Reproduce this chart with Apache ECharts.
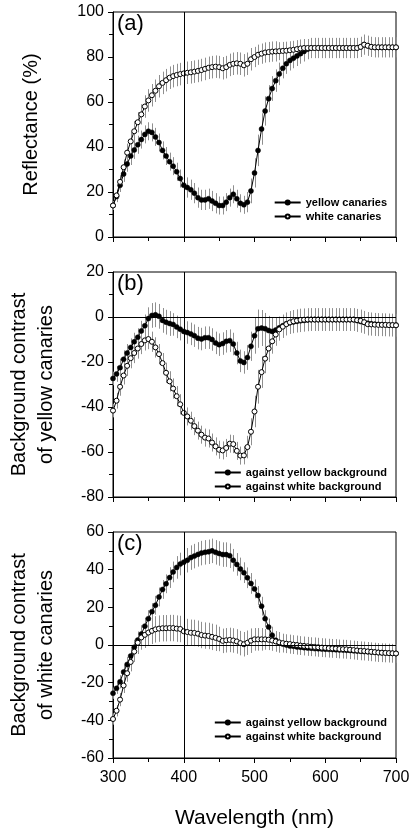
<!DOCTYPE html>
<html>
<head>
<meta charset="utf-8">
<script src="https://cdn.jsdelivr.net/npm/echarts@6/dist/echarts.min.js"></script>
<style>
html,body{margin:0;padding:0;background:#fff;}
#chart{width:409px;height:838px;}
</style>
</head>
<body>
<div id="chart"></div>
<script>
// Wavelengths (nm)
const wavelength = [
300,305,310,315,320,325,330,335,340,345,
350,355,360,365,370,375,380,385,390,395,
400,405,410,415,420,425,430,435,440,445,
450,455,460,465,470,475,480,485,490,495,
500,505,510,515,520,525,530,535,540,545,
550,555,560,565,570,575,580,585,590,595,
600,605,610,615,620,625,630,635,640,645,
650,655,660,665,670,675,680,685,690,695,
700];

// Panel (a): reflectance (%)
const reflYellow = [
14,18,23,28,32.5,36,38.7,41,43.3,45.6,
47,46.5,44.5,42,38.5,36,33.5,31.5,29,26,
23,22,21,19.5,17.5,16.5,16.5,17,16,15,
14,14,15.5,17.5,19,17,15,14.3,15.5,20.5,
28.5,38.5,48,56,61.5,66,69.5,72.5,75,77,
78.5,79.5,80.5,81.5,82.5,83.5,84,84,84,84,
84,84,84,84,84,84,84,84,84,84,
84.5,85.5,85,84.5,84.3,84.3,84.3,84.3,84.3,84.3,
84.3];
const reflYellowSD = [
2,2.5,3,3.5,3.5,4,4,4,4,4,
4,4,4,4,4,4,4,4,4,4,
4.5,4.5,4.5,4.5,4.5,4.5,4.5,4.5,4.5,4.5,
4,4,4,4,4,4,4,4,4.5,5.5,
6.5,7,7,6.5,6,5.5,5,5,4.5,4.5,
4.5,4.5,4.5,4.5,4.5,4.5,4.5,4.5,4.5,4.5,
4.5,4.5,4.5,4.5,4.5,4.5,4.5,4.5,4.5,4.5,
4.5,4.5,4.5,4.5,4.5,4.5,4.5,4.5,4.5,4.5,
4.5];
const reflWhite = [
14,18.5,24.5,31,37.5,42.5,47,51,54.5,58,
60.7,63,65,67,68.5,69.7,70.8,71.5,72,72.4,
72.7,73,73.2,73.5,73.8,74.2,74.7,75.2,75.5,75.7,
75.5,75,75.5,76.5,77,77.2,77,76.3,77,79,
80,81,81.5,82,82.2,82.4,82.5,82.6,82.7,82.8,
83,83.2,83.5,83.8,84,84,84,84,84,84,
84,84,84,84,84,84,84,84,84,84,
84.5,85.5,85,84.5,84.3,84.3,84.3,84.3,84.3,84.3,
84.3];
const reflWhiteSD = [
2,2.5,3,3.5,4,4,4.5,4.5,4.5,5,
5,5,5,5,5,5,5,5,5,5,
5,5,5,5,5,5,5,5,5,5,
5,5,5,5,5,5,5,5,5,5,
4.5,4.5,4.5,4.5,4.5,4.5,4.5,4,4,4,
4,4,4,4,4,4,4,4,4,4,
4,4,4,4,4,4,4,4,4,4,
4,4,4,4,4,4,4,4,4,4,
4];

// Panel (b): background contrast of yellow canaries
const contYellowOnYellow = [
-27.3,-25.3,-22.5,-18.8,-16,-13.5,-11,-9,-6.2,-3.9,
-0.7,0.7,1,0.3,-1.5,-2.3,-2.9,-3.3,-4.4,-5.4,
-6.4,-6.9,-7.5,-8.3,-9.4,-9.8,-9.2,-9.2,-10,-11.5,
-12.3,-11.8,-10.8,-10.5,-12,-16,-19.5,-20.2,-18,-13,
-8.3,-5.2,-4.9,-5.2,-6,-6.4,-5.8,-4.8,-3.9,-3,
-2.5,-2.2,-1.9,-1.7,-1.5,-1.3,-1.2,-1.2,-1.2,-1.2,
-1.2,-1.2,-1.2,-1.2,-1.2,-1.2,-1.2,-1.2,-1.2,-1.6,
-2,-2.4,-2.8,-3,-3.2,-3.3,-3.4,-3.5,-3.5,-3.6,
-3.6];
const contYellowOnYellowSD = [
3,3.5,4,4,4,4,4,4,4.5,5,
5,5.5,5.5,5.5,5.5,5.5,5.5,5,5,5,
5,5,5,5,5,5,5,5,5,5,
5,5,5,5,5,5,5,5,5.5,6.5,
8,8.5,8,7,6.5,6,5.5,5,5,5,
5,5,5,5,5,5,5,5,5,5,
5,5,5,5,5,5,5,5,5,5,
5,5,5,5,5,5,5,5,5,5,
5];
const contYellowOnWhite = [
-41.6,-37.2,-31,-26,-21.7,-18.3,-16,-14,-12,-10.4,
-9.8,-11,-13.5,-16.5,-20.5,-24.8,-28.6,-31.8,-35.2,-38.8,
-42.6,-44.2,-46.1,-48.5,-50.5,-52.3,-53.6,-54,-55.8,-57.5,
-59,-59.3,-58.2,-56.3,-56.5,-59.5,-61.6,-61.5,-57.8,-51,
-42,-31,-24.5,-18.5,-14,-10.8,-7.8,-5.5,-4.3,-3.2,
-2.4,-1.9,-1.6,-1.3,-1.2,-1.1,-1.1,-1.1,-1.1,-1.1,
-1.1,-1.1,-1.1,-1.1,-1.1,-1.1,-1.1,-1.1,-1.1,-1.4,
-1.7,-2.3,-3.2,-3.3,-3.4,-3.5,-3.5,-3.5,-3.6,-3.6,
-3.7];
const contYellowOnWhiteSD = [
3,3.5,4,4,4.5,4.5,4.5,4.5,4.5,4.5,
4.5,4.5,4.5,4.5,4.5,4.5,4.5,4.5,4.5,4.5,
4,4,4,4,4,4,4,4,4,4,
4,4,4,4,4,4,4,4,5,6,
7,7.5,7,6.5,6,5.5,5,5,5,5,
5,5,5,5,5,5,5,5,5,5,
5,5,5,5,5,5,5,5,5,5,
5,5,5,5,5,5,5,5,5,5,
5];

// Panel (c): background contrast of white canaries
const contWhiteOnYellow = [
-25.6,-23,-19.5,-14.3,-10.3,-5.8,-1.2,2.6,5.8,10,
14,17.7,21.1,25.5,29.5,32.5,35.8,38.8,41.2,43,
44,45,46.4,47.2,48.1,48.8,49.2,49.5,50,49.2,
48.6,48,48,47.4,45,42.8,40.4,38.4,35.7,32.7,
29.8,26.3,20.6,14,9.5,5.2,2.5,1.2,0.5,0,
-0.5,-0.7,-1,-1.2,-1.4,-1.6,-1.7,-1.9,-2,-2.1,
-2.2,-2.3,-2.4,-2.5,-2.6,-2.7,-2.8,-2.9,-3.1,-3.2,
-3.3,-3.5,-3.6,-3.7,-3.8,-4,-4.1,-4.2,-4.3,-4.4,
-4.5];
const contWhiteOnYellowSD = [
3,3,3.5,3.5,4,4,4,4,4,4.5,
4.5,4.5,5,5,5,5,5.5,5.5,6,6,
6,6.5,6.5,6.5,6.5,6.5,6.5,6.5,6.5,6.5,
6.5,6.5,6.5,6.5,6,6,6,5.5,5.5,5.5,
5,5,5,4.5,4.5,4.5,4.5,4,4,4,
4,4,4,4,4,4,4,4,4,4,
4,4,4,4,4,4,4,4,4,4,
4,4,4,4,4,4,4,4,4,4,
4];
const contWhiteOnWhite = [
-39.3,-34.9,-29,-21.5,-15,-9,-3.5,1.2,4,5.4,
6.6,7.5,8.3,8.7,8.9,8.9,9,9,8.7,8.5,
7.3,6.9,6.5,6.4,6,5.3,5,4.8,4.3,3.8,
3.2,2.2,2.5,2.7,2.4,1.9,1,0.4,1.2,2.3,
3,3,3,3,2.8,2.4,1.9,1.4,1,0.7,
0.5,0.2,0,-0.3,-0.5,-0.7,-0.9,-1,-1.2,-1.4,
-1.5,-1.7,-1.8,-1.9,-2.1,-2.2,-2.3,-2.5,-2.7,-2.9,
-3.1,-3.2,-3.4,-3.6,-3.8,-4,-4.1,-4.2,-4.3,-4.4,
-4.5];
const contWhiteOnWhiteSD = [
3,3,3.5,4,4.5,5,5.5,6,6.5,7,
7,7,7,7,7,7,7,7,7,7,
7,7,7,7,7,7,7,7,7,7,
6.5,6.5,6.5,6.5,6.5,6.5,6.5,6.5,6.5,6.5,
6,6,6,5.5,5.5,5.5,5.5,5.5,5,5,
5,5,5,5,5,5,5,5,5,5,
5,5,5,5,5,5,5,5,5,5,
5,5,5,5,5,5,5,5,5,5,
5];

const xTicks = [300, 400, 500, 600, 700];
const panelLabels = ['(a)', '(b)', '(c)'];
const legendA = ['yellow canaries', 'white canaries'];
const legendBC = ['against yellow background', 'against white background'];
const yNames = ['Reflectance (%)', 'Background contrast\nof yellow canaries', 'Background contrast\nof white canaries'];

const FONT = '"Liberation Sans", Arial, Helvetica, sans-serif';

const grids = [
  {left: 113, right: 13, top: 12, height: 225},
  {left: 113, right: 13, top: 272, height: 225},
  {left: 113, right: 13, top: 532, height: 226}
];

function xAxisFor(i, showLabels) {
  return {
    type: 'value', gridIndex: i, min: 300, max: 700, interval: 100,
    axisLine: {show: true, onZero: false, lineStyle: {color: '#000', width: 1}},
    axisTick: {show: true, inside: false, length: 5, lineStyle: {color: '#000'}},
    minorTick: {show: true, splitNumber: 2, length: 4, lineStyle: {color: '#000'}},
    splitLine: {show: false},
    axisLabel: {show: showLabels, fontSize: 16, color: '#000', fontFamily: FONT, margin: 12,
      formatter: v => xTicks.includes(v) ? String(v) : ''},
    name: showLabels ? 'Wavelength (nm)' : '',
    nameLocation: 'middle', nameGap: 50,
    nameTextStyle: {fontSize: 21, color: '#000', fontFamily: FONT}
  };
}
function yAxisFor(i, min, max, name, gap) {
  return {
    type: 'value', gridIndex: i, min: min, max: max, interval: 20,
    axisLine: {show: true, onZero: false, lineStyle: {color: '#000', width: 1}},
    axisTick: {show: true, inside: false, length: 5, lineStyle: {color: '#000'}},
    minorTick: {show: true, splitNumber: 2, length: 4, lineStyle: {color: '#000'}},
    splitLine: {show: false},
    axisLabel: {fontSize: 16, color: '#000', fontFamily: FONT, margin: 9},
    name: name, nameLocation: 'middle', nameGap: gap,
    nameTextStyle: {fontSize: 20, color: '#000', fontFamily: FONT, lineHeight: 27}
  };
}

function errRender(params, api) {
  const x = api.value(0), lo = api.value(1), hi = api.value(2);
  const p1 = api.coord([x, lo]), p2 = api.coord([x, hi]);
  const xx = Math.round(p1[0]) + 0.5;
  return {type: 'line', shape: {x1: xx, y1: p1[1], x2: xx, y2: p2[1]},
    style: {stroke: '#8f8f8f', lineWidth: 1}};
}
function errSeries(i, mean, sd) {
  return {
    type: 'custom', xAxisIndex: i, yAxisIndex: i, renderItem: errRender, silent: true, z: 1,
    encode: {x: 0, y: [1, 2]},
    data: wavelength.map((w, k) => [w, mean[k] - sd[k], mean[k] + sd[k]])
  };
}
function lineSeries(i, name, mean, filled, refLines) {
  const s = {
    type: 'line', name: name, xAxisIndex: i, yAxisIndex: i, z: filled ? 3 : 4,
    data: wavelength.map((w, k) => [w, mean[k]]),
    symbol: 'circle', symbolSize: 5, showAllSymbol: true,
    lineStyle: {color: '#000', width: 1},
    itemStyle: filled ? {color: '#000', borderColor: '#000', borderWidth: 0.5}
                      : {color: '#fff', borderColor: '#000', borderWidth: 1},
    emphasis: {disabled: true},
    animation: false
  };
  if (refLines) {
    s.markLine = {silent: true, symbol: 'none', label: {show: false},
      lineStyle: {color: '#000', width: 1, type: 'solid'}, animation: false,
      data: refLines};
  }
  return s;
}

function legendFor(names, top) {
  return {
    data: names, orient: 'vertical', right: 17, top: top, itemGap: 3,
    itemWidth: 26, itemHeight: 5, selectedMode: false,
    textStyle: {fontSize: 11, fontWeight: 'bold', color: '#000', fontFamily: FONT, padding: [0, 0, 0, 0]}
  };
}

const chart = echarts.init(document.getElementById('chart'), null, {renderer: 'canvas'});
chart.setOption({
  animation: false,
  backgroundColor: '#fff',
  grid: grids.map(g => Object.assign({show: true, borderColor: '#000', borderWidth: 1,
    backgroundColor: 'transparent', containLabel: false, outerBoundsMode: 'none'}, g)),
  xAxis: [xAxisFor(0, false), xAxisFor(1, false), xAxisFor(2, true)],
  yAxis: [
    yAxisFor(0, 0, 100, yNames[0], 68),
    yAxisFor(1, -80, 20, yNames[1], 53),
    yAxisFor(2, -60, 60, yNames[2], 53)
  ],
  legend: [legendFor(legendA, 192), legendFor(legendBC, 462), legendFor(legendBC, 712)],
  series: [
    errSeries(0, reflWhite, reflWhiteSD),
    errSeries(0, reflYellow, reflYellowSD),
    lineSeries(0, legendA[0], reflYellow, true, [{xAxis: 400}]),
    lineSeries(0, legendA[1], reflWhite, false),
    errSeries(1, contYellowOnWhite, contYellowOnWhiteSD),
    errSeries(1, contYellowOnYellow, contYellowOnYellowSD),
    lineSeries(1, legendBC[0], contYellowOnYellow, true, [{xAxis: 400}, {yAxis: 0}]),
    lineSeries(1, legendBC[1], contYellowOnWhite, false),
    errSeries(2, contWhiteOnWhite, contWhiteOnWhiteSD),
    errSeries(2, contWhiteOnYellow, contWhiteOnYellowSD),
    lineSeries(2, legendBC[0], contWhiteOnYellow, true, [{xAxis: 400}, {yAxis: 0}]),
    lineSeries(2, legendBC[1], contWhiteOnWhite, false)
  ],
  graphic: panelLabels.map((t, i) => ({
    type: 'text', left: 117, top: grids[i].top + 1, z: 10,
    style: {text: t, fontSize: 22, fill: '#000', fontFamily: FONT}
  }))
});
</script>
</body>
</html>
